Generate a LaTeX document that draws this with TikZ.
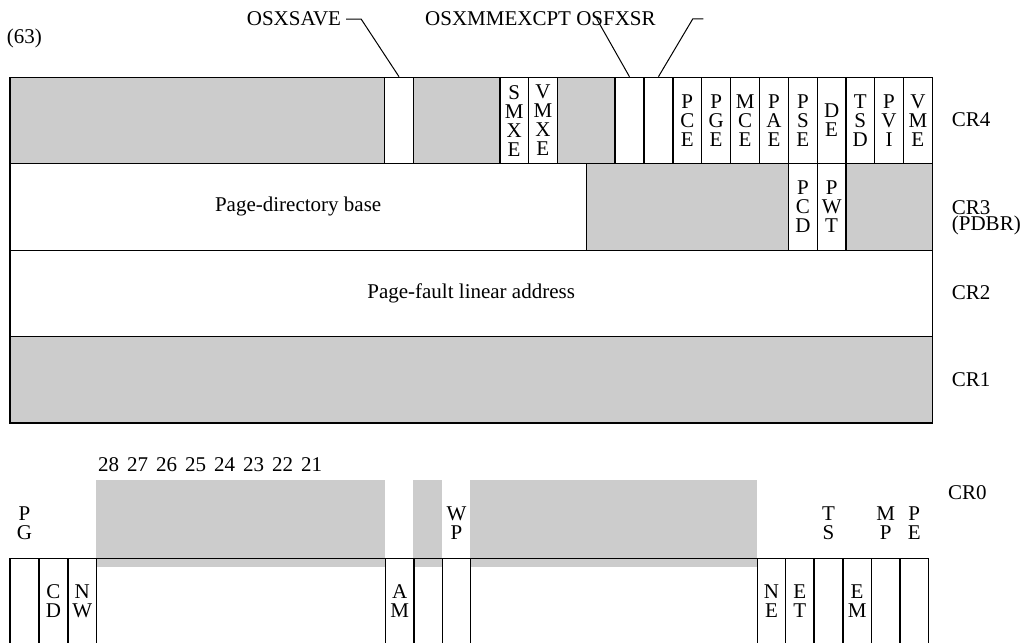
\documentclass[tikz,border=0pt]{standalone}
\usepackage{fontspec}
\setmainfont{Liberation Serif}
\definecolor{regGray}{RGB}{204,204,204}
\newcommand\regcell[7]{%
  \pgfmathsetmacro\rcW{#3-#2}%
  \node[regcell,#6,minimum width=\rcW pt,minimum height=#5pt] (#1) at (#2,#4) {#7};}
% stacked letters, centred, fixed line pitch
\newcommand\regstack[1]{\vbox{\baselineskip=19pt\lineskiplimit=-30pt\lineskip=0pt
  \halign{\hfil##\hfil\cr#1\crcr}}}
% left aligned two-line label, tighter pitch
\newcommand\regleft[1]{\vbox{\baselineskip=16.5pt\lineskiplimit=-30pt\lineskip=0pt
  \halign{##\hfil\cr#1\crcr}}}
\begin{document}
\begin{tikzpicture}[x=1pt,y=-1pt,
  every node/.style={font=\fontsize{21}{19}\selectfont},
  regcell/.style={draw,line width=1.3pt,rectangle,inner sep=0pt,anchor=north west},
  shaded/.style={fill=regGray},
  plain/.style={},
  leader/.style={line width=1pt},
  txt/.style={inner sep=0pt},
  crlabel/.style={anchor=west,inner sep=0pt}]
\clip (0,0) rectangle (1027,642);

% ---------- top labels ----------
\node[txt,anchor=base west] (n63) at (6.7,43.5) {(63)};
\node[txt,anchor=base west] (osxsave) at (246.7,26) {OSXSAVE};
\node[txt,anchor=base west] (osxmm) at (425,26) {OSXMMEXCPT OSFXSR};

% ---------- CR4 ----------
\def\yA{76.7}\def\hR{86.4}
\regcell{c4a}{9.3}{384}{\yA}{\hR}{shaded}{}
\regcell{c18}{384}{412.7}{\yA}{\hR}{plain}{}
\regcell{c4b}{412.7}{499.3}{\yA}{\hR}{shaded}{}
\regcell{c14}{499.3}{527.7}{\yA}{\hR}{plain}{\regstack{S\cr M\cr X\cr E}}
\regcell{c13}{527.7}{556.7}{\yA}{\hR}{plain}{\regstack{V\cr M\cr X\cr E}}
\regcell{c4c}{556.7}{614.3}{\yA}{\hR}{shaded}{}
\regcell{c10}{614.3}{643.3}{\yA}{\hR}{plain}{}
\regcell{c9}{643.3}{672.3}{\yA}{\hR}{plain}{}
\regcell{c8}{672.3}{701}{\yA}{\hR}{plain}{\regstack{P\cr C\cr E}}
\regcell{c7}{701}{730}{\yA}{\hR}{plain}{\regstack{P\cr G\cr E}}
\regcell{c6}{730}{759}{\yA}{\hR}{plain}{\regstack{M\cr C\cr E}}
\regcell{c5}{759}{787.7}{\yA}{\hR}{plain}{\regstack{P\cr A\cr E}}
\regcell{c4}{787.7}{816.7}{\yA}{\hR}{plain}{\regstack{P\cr S\cr E}}
\regcell{c3}{816.7}{845.3}{\yA}{\hR}{plain}{\regstack{D\cr E}}
\regcell{c2}{845.3}{874}{\yA}{\hR}{plain}{\regstack{T\cr S\cr D}}
\regcell{c1}{874}{902.7}{\yA}{\hR}{plain}{\regstack{P\cr V\cr I}}
\regcell{c0}{902.7}{931.7}{\yA}{\hR}{plain}{\regstack{V\cr M\cr E}}

% ---------- CR3 ----------
\def\yB{163.1}
\regcell{d1}{9.3}{585.7}{\yB}{\hR}{plain}{Page-directory base}
\regcell{d2}{585.7}{787.7}{\yB}{\hR}{shaded}{}
\regcell{d4}{787.7}{816.7}{\yB}{\hR}{plain}{\regstack{P\cr C\cr D}}
\regcell{d3}{816.7}{845.3}{\yB}{\hR}{plain}{\regstack{P\cr W\cr T}}
\regcell{d5}{845.3}{931.7}{\yB}{\hR}{shaded}{}

% ---------- CR2 ----------
\regcell{e1}{9.3}{931.7}{249.5}{\hR}{plain}{Page-fault linear address}

% ---------- CR1 ----------
\regcell{f1}{9.3}{931.7}{335.9}{\hR}{shaded}{}

% ---------- leaders ----------
\draw[leader] ([xshift=5pt]osxsave.east) -- ++(15,0) -- (c18.north);
\coordinate (xmmStart) at (596.5,18.5);
\draw[leader] (xmmStart) -- (c10.north);
\coordinate (fxsrEnd) at (703.3,19);
\coordinate (fxsrBend) at (692.7,19);
\draw[leader] (fxsrEnd) -- (fxsrBend) -- (c9.north);

% ---------- register names ----------
\node[crlabel] (cr4) at (951.7,119.2) {CR4};
\node[crlabel] (cr3) at (951.7,218) {\regleft{CR3\cr (PDBR)}};
\node[crlabel] (cr2) at (951.7,293) {CR2};
\node[crlabel] (cr1) at (951.7,380) {CR1};
\node[crlabel] (cr0) at (948,492.5) {CR0};

% ---------- CR0 ----------
\fill[regGray] (96,480) rectangle (385,566.7);
\fill[regGray] (413.3,480) rectangle (441.7,566.7);
\fill[regGray] (470,480) rectangle (756.7,566.7);
\def\yC{557.7}
\regcell{g31}{9.3}{38.3}{\yC}{\hR}{plain}{}
\regcell{g30}{38.3}{67.3}{\yC}{\hR}{plain}{\regstack{C\cr D}}
\regcell{g29}{67.3}{96}{\yC}{\hR}{plain}{\regstack{N\cr W}}
\regcell{gm1}{96}{385}{\yC}{\hR}{plain}{}
\regcell{g18}{385}{413.3}{\yC}{\hR}{plain}{\regstack{A\cr M}}
\regcell{g17}{413.3}{441.7}{\yC}{\hR}{plain}{}
\regcell{g16}{441.7}{470}{\yC}{\hR}{plain}{}
\regcell{gm2}{470}{756.7}{\yC}{\hR}{plain}{}
\regcell{g5}{756.7}{785}{\yC}{\hR}{plain}{\regstack{N\cr E}}
\regcell{g4}{785}{813.3}{\yC}{\hR}{plain}{\regstack{E\cr T}}
\regcell{g3}{813.3}{842.3}{\yC}{\hR}{plain}{}
\regcell{g2}{842.3}{870.7}{\yC}{\hR}{plain}{\regstack{E\cr M}}
\regcell{g1}{870.7}{899.3}{\yC}{\hR}{plain}{}
\regcell{g0}{899.3}{927.7}{\yC}{\hR}{plain}{}

% labels above CR0 cells
\node[txt] (lPG) at ([yshift=34.2pt]g31.north) {\regstack{P\cr G}};
\node[txt] (lWP) at ([yshift=34.2pt]g16.north) {\regstack{W\cr P}};
\node[txt] (lTS) at ([yshift=34.2pt]g3.north) {\regstack{T\cr S}};
\node[txt] (lMP) at ([yshift=34.2pt]g1.north) {\regstack{M\cr P}};
\node[txt] (lPE) at ([yshift=34.2pt]g0.north) {\regstack{P\cr E}};

% bit numbers
\foreach \b [count=\i from 0] in {28,27,26,25,24,23,22,21}
  \node[txt] (bit\b) at (108.5+29*\i,465) {\b};
\end{tikzpicture}
\end{document}
